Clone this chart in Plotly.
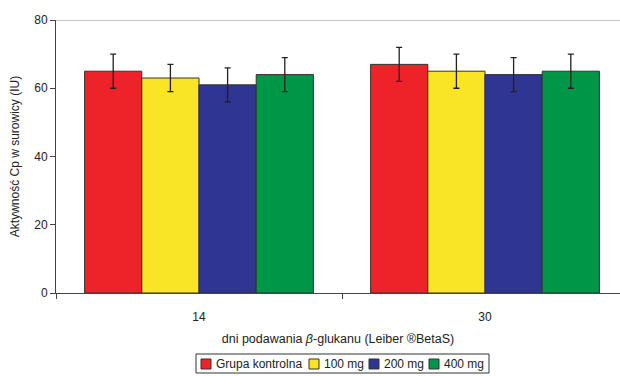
import plotly.graph_objects as go

categories = ["14", "30"]
series_names = ["Grupa kontrolna", "100 mg", "200 mg", "400 mg"]
values = [
    [65, 67],
    [63, 65],
    [61, 64],
    [64, 65],
]
errors = [
    [5, 5],
    [4, 5],
    [5, 5],
    [5, 5],
]
colors = ["#EE2229", "#F9E526", "#2E3592", "#009647"]
y_ticks = [0, 20, 40, 60, 80]

FONT = "Liberation Sans, Arial, sans-serif"
W, H = 620, 376
L, R, T, B = 56, 0, 20, 83
PW, PH = W - L - R, H - T - B


def px_x(px):
    return (px - L) / PW


def px_y(py):
    return (H - B - py) / PH


fig = go.Figure()
for name, vals, errs, col in zip(series_names, values, errors, colors):
    fig.add_trace(go.Bar(
        x=categories, y=vals, name=name,
        marker=dict(color=col, line=dict(color="#333333", width=1)),
        error_y=dict(type="data", array=errs, visible=True, color="#222222", thickness=1.3, width=3),
        showlegend=False,
    ))

fig.update_layout(
    width=W, height=H,
    margin=dict(l=L, r=R, t=T, b=B, autoexpand=False),
    paper_bgcolor="white", plot_bgcolor="white",
    barmode="group", bargap=0.2, bargroupgap=0,
    font=dict(family=FONT, size=12, color="#222222"),
    showlegend=False,
    xaxis=dict(type="category", range=[-0.5, 1.472], showline=True, linecolor="#444444",
               linewidth=1, ticks="outside", tickson="boundaries", ticklen=5, tickcolor="#444444",
               showgrid=False, automargin=False, ticklabelstandoff=13,
               title=dict(text="dni podawania <i>β</i>-glukanu (Leiber ®BetaS)", standoff=10,
                          font=dict(size=12.5))),
    yaxis=dict(range=[0, 80], tickvals=y_ticks, showline=True, linecolor="#444444", linewidth=1,
               ticks="outside", ticklen=5, tickcolor="#444444", showgrid=False, zeroline=False,
               automargin=False,
               title=dict(text="Aktywność Cp w surowicy (IU)", standoff=12, font=dict(size=12))),
)
fig.add_shape(type="line", xref="paper", yref="y", x0=0, x1=1, y0=80, y1=80,
              line=dict(color="#888888", width=1))

# manual legend (compact, as in reference)
box_x0, box_x1, box_y0, box_y1 = 196, 489, 354, 373
fig.add_shape(type="rect", xref="paper", yref="paper",
              x0=px_x(box_x0), x1=px_x(box_x1), y0=px_y(box_y1), y1=px_y(box_y0),
              line=dict(color="#333333", width=1), fillcolor="white", layer="above")
item_x = [201, 309, 369, 429]
cy = 364
for name, col, ix in zip(series_names, colors, item_x):
    fig.add_shape(type="rect", xref="paper", yref="paper",
                  x0=px_x(ix), x1=px_x(ix + 10), y0=px_y(cy + 5), y1=px_y(cy - 5),
                  line=dict(color="#333333", width=1), fillcolor=col, layer="above")
    fig.add_annotation(xref="paper", yref="paper", x=px_x(ix + 13), y=px_y(cy),
                       xanchor="left", yanchor="middle", text=name, showarrow=False,
                       font=dict(size=12), xshift=0)

fig.write_html("out.html", config={"displayModeBar": False},
               post_script="document.body.style.margin='0';document.body.style.overflow='hidden';")
